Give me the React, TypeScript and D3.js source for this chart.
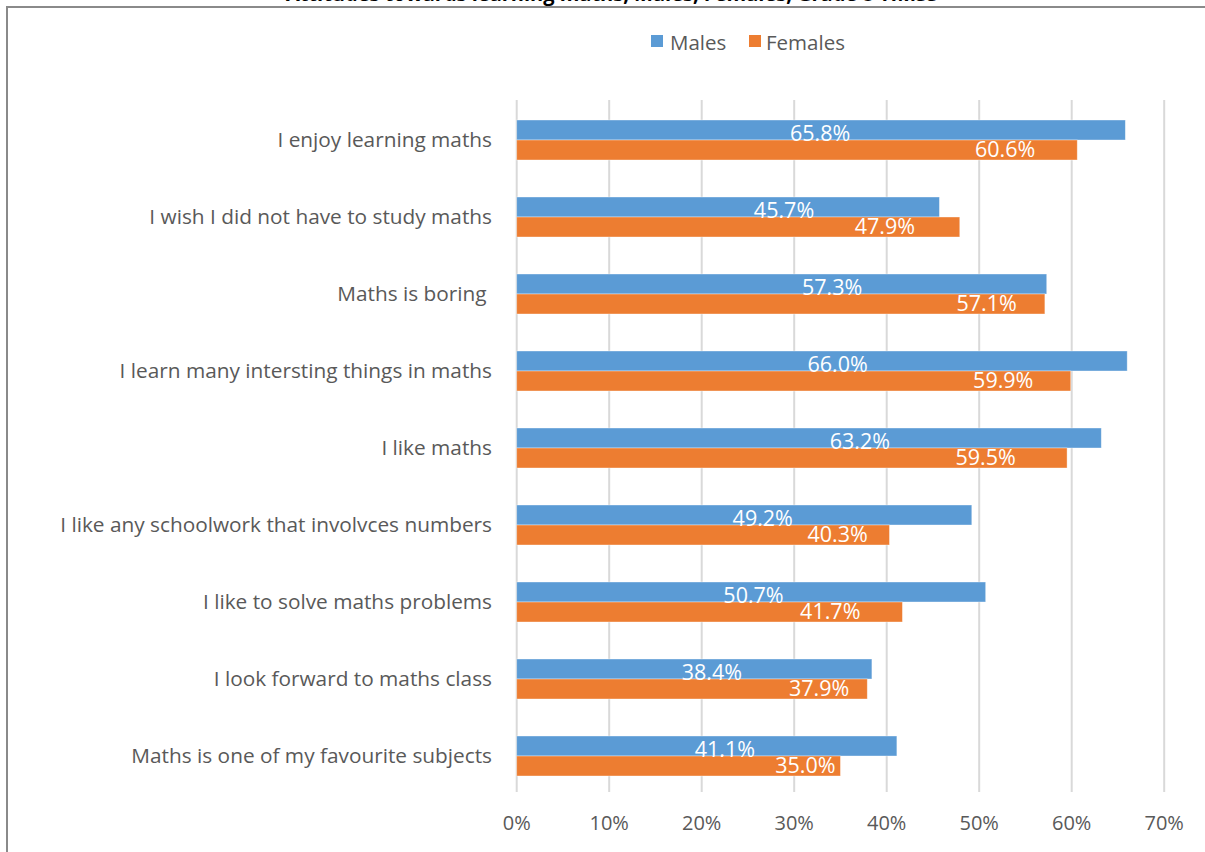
import React from "react";
import * as d3 from "d3";

const categories = [
  "I enjoy learning maths",
  "I wish I did not have to study maths",
  "Maths is boring ",
  "I learn many intersting things in maths",
  "I like maths",
  "I like any schoolwork that involvces numbers",
  "I like to solve maths problems",
  "I look forward to maths class",
  "Maths is one of my favourite subjects",
];
const males = [65.8, 45.7, 57.3, 66.0, 63.2, 49.2, 50.7, 38.4, 41.1];
const females = [60.6, 47.9, 57.1, 59.9, 59.5, 40.3, 41.7, 37.9, 35.0];
// where each data label sits, in axis units
const maleLabelAt = [32.8, 28.9, 34.1, 34.7, 37.1, 26.6, 25.6, 21.1, 22.5];
const femaleLabelAt = [52.8, 39.8, 50.8, 52.6, 50.7, 34.7, 33.9, 32.7, 31.2];
const ticks = [0, 10, 20, 30, 40, 50, 60, 70];
const seriesNames = ["Males", "Females"];
const title = "Attitudes towards learning maths, Males, Females, Grade 8 TIMSS";

const W = 1205;
const H = 852;
const BLUE = "#5B9BD5";
const ORANGE = "#ED7D31";
const GRAY = "#595959";
const FONT = "'Open Sans', sans-serif";

export default function App() {
  const x = d3.scaleLinear().domain([0, 70]).range([516.7, 1164.2]);
  const y = d3
    .scaleBand<string>()
    .domain(categories)
    .range([101.5, 794.5])
    .paddingInner(37 / 77)
    .paddingOuter(37 / 154);
  const bh = y.bandwidth() / 2;
  const fmt = (v: number) => v.toFixed(1) + "%";

  return (
    <svg
      width={W}
      height={H}
      style={{ position: "absolute", left: 0, top: 0, background: "#fff" }}
      fontFamily={FONT}
    >
      <rect x={0} y={0} width={W} height={H} fill="#fff" />
      <text
        x={612}
        y={0.5}
        textAnchor="middle"
        fontWeight="bold"
        fontSize={20}
        fill="#000"
      >
        {title}
      </text>
      <rect
        x={7}
        y={7}
        width={W + 10}
        height={H + 10}
        fill="none"
        stroke="#8a8a8a"
        strokeWidth={2}
      />
      {/* legend */}
      <g>
        <rect x={651} y={35} width={12} height={12} fill={BLUE} />
        <text x={670} y={41.5} dominantBaseline="central" fontSize={20.5} fill={GRAY}>
          {seriesNames[0]}
        </text>
        <rect x={749} y={35} width={12} height={12} fill={ORANGE} />
        <text x={766} y={41.5} dominantBaseline="central" fontSize={20.5} fill={GRAY}>
          {seriesNames[1]}
        </text>
      </g>
      {/* gridlines */}
      {ticks.map((t) => (
        <line
          key={t}
          x1={x(t)}
          x2={x(t)}
          y1={100}
          y2={792}
          stroke="#d9d9d9"
          strokeWidth={2}
        />
      ))}
      {ticks.map((t) => (
        <text
          key={"t" + t}
          x={x(t)}
          y={822}
          textAnchor="middle"
          dominantBaseline="central"
          fontSize={20}
          fill={GRAY}
        >
          {t + "%"}
        </text>
      ))}
      {categories.map((c, i) => {
        const y0 = y(c)!;
        return (
          <g key={c}>
            <text
              x={492}
              y={y0 + bh - 1.5}
              textAnchor="end"
              dominantBaseline="central"
              fontSize={20.8}
              fill={GRAY}
              style={{ whiteSpace: "pre" }}
            >
              {c}
            </text>
            <rect
              x={x(0)}
              y={y0}
              width={x(males[i]) - x(0)}
              height={bh}
              fill={BLUE}
              stroke="#fff"
              strokeOpacity={0.5}
              strokeWidth={0.75}
            />
            <rect
              x={x(0)}
              y={y0 + bh}
              width={x(females[i]) - x(0)}
              height={bh}
              fill={ORANGE}
              stroke="#fff"
              strokeOpacity={0.5}
              strokeWidth={0.75}
            />
            <text
              x={x(maleLabelAt[i])}
              y={y0 + bh + 0.5}
              textAnchor="middle"
              fontSize={21.5}
              fill="#fff"
            >
              {fmt(males[i])}
            </text>
            <text
              x={x(femaleLabelAt[i])}
              y={y0 + 2 * bh - 3.5}
              textAnchor="middle"
              fontSize={21.5}
              fill="#fff"
            >
              {fmt(females[i])}
            </text>
          </g>
        );
      })}
    </svg>
  );
}
